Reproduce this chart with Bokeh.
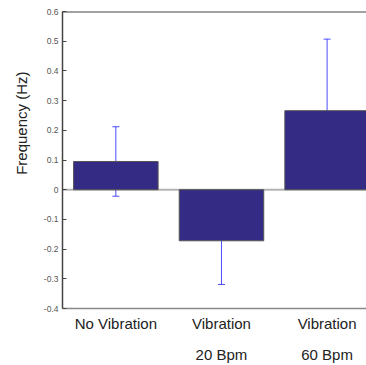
from bokeh.plotting import figure
from bokeh.models import (ColumnDataSource, Whisker, TeeHead, Span, Title,
                          FixedTicker, Range1d)
from bokeh.embed import file_html
from bokeh.resources import INLINE

# Mean change in frequency per condition, with error-bar half widths
categories = ["No Vibration", "Vibration\n20 Bpm", "Vibration\n60 Bpm"]
means = [0.095, -0.172, 0.266]
errors = [0.117, 0.147, 0.241]

y_ticks = [-0.4, -0.3, -0.2, -0.1, 0.0, 0.1, 0.2, 0.3, 0.4, 0.5, 0.6]
y_tick_labels = ["-0.4", "-0.3", "-0.2", "-0.1", "0", "0.1", "0.2", "0.3",
                 "0.4", "0.5", "0.6"]

xs = list(range(1, len(categories) + 1))
src = ColumnDataSource(dict(
    x=xs, top=means,
    upper=[m + e for m, e in zip(means, errors)],
    lower=[m - e for m, e in zip(means, errors)],
))

p = figure(width=366, height=365, output_backend="svg", toolbar_location=None,
           x_range=Range1d(0.495, 3.373), y_range=Range1d(-0.4, 0.6),
           min_border_left=61, min_border_right=0, min_border_top=11,
           min_border_bottom=56)
p.background_fill_color = "white"
p.border_fill_color = "white"
p.outline_line_color = None
p.xgrid.visible = False
p.ygrid.visible = False

# zero baseline
p.add_layout(Span(location=0, dimension="width", line_color="#b4b4b4",
                  line_width=2, level="underlay"))

p.vbar(x="x", top="top", bottom=0, width=0.8, source=src,
       fill_color="#332b84", line_color="#555555", line_width=1)

p.add_layout(Whisker(source=src, base="x", upper="upper", lower="lower",
                     line_color="#1f1fff", line_alpha=0.8, line_width=1,
                     upper_head=TeeHead(size=7, line_color="#1f1fff", line_alpha=0.8),
                     lower_head=TeeHead(size=7, line_color="#1f1fff", line_alpha=0.8)))

# top border of the frame
p.add_layout(Span(location=0.6, dimension="width", line_color="#444444",
                  line_width=2))

# y axis
p.yaxis.ticker = FixedTicker(ticks=y_ticks)
p.yaxis.major_label_overrides = {t: s for t, s in zip(y_ticks, y_tick_labels)}
p.yaxis.major_tick_in = 4
p.yaxis.major_tick_out = 0
p.yaxis.minor_tick_line_color = None
p.yaxis.axis_line_color = "#444444"
p.yaxis.axis_line_width = 1.5
p.yaxis.major_tick_line_color = "#444444"
p.yaxis.major_label_text_font = "Liberation Sans"
p.yaxis.major_label_text_font_size = "8.5px"
p.yaxis.major_label_text_color = "#555555"
p.yaxis.major_label_standoff = 4

# x axis with category names
p.xaxis.ticker = FixedTicker(ticks=xs)
p.xaxis.major_label_overrides = {x: c for x, c in zip(xs, categories)}
p.xaxis.major_tick_line_color = None
p.xaxis.minor_tick_line_color = None
p.xaxis.axis_line_color = "#888888"
p.xaxis.axis_line_width = 1.5
p.xaxis.major_label_text_font = "Liberation Sans"
p.xaxis.major_label_text_font_size = "15px"
p.xaxis.major_label_text_color = "#222222"
p.xaxis.major_label_text_line_height = 1.85
p.xaxis.major_label_standoff = 0

# y axis title
p.add_layout(Title(text="Frequency (Hz)", align="right", offset=60,
                   standoff=21, text_font="Liberation Sans",
                   text_font_size="15px", text_font_style="normal",
                   text_color="#222222"), "left")

open("out.html", "w").write(file_html(p, INLINE))
